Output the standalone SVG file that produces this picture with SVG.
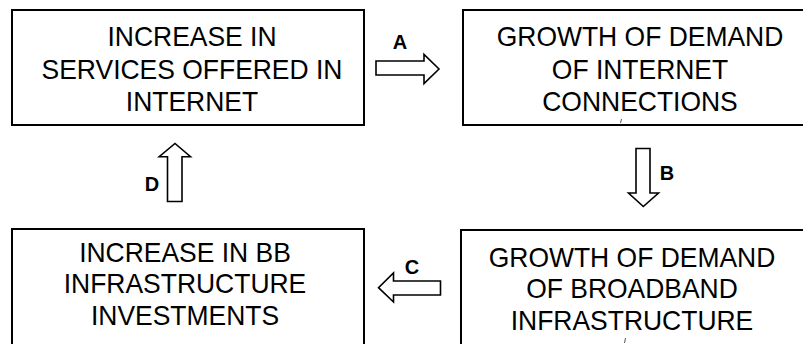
<svg xmlns="http://www.w3.org/2000/svg" width="803" height="344" viewBox="0 0 803 344">
  <style>
    .box { fill: #ffffff; stroke: #000000; stroke-width: 2; }
    .label { font-family: "Liberation Sans", Arial, sans-serif; font-size: 28px; fill: #000000; text-anchor: middle; }
    .tag { font-family: "Liberation Sans", Arial, sans-serif; font-size: 20px; font-weight: bold; fill: #000000; text-anchor: middle; }
    .arrow { fill: #ffffff; stroke: #000000; stroke-width: 1.6; stroke-linejoin: miter; }
    .mark { fill: none; stroke: #555555; stroke-width: 1; }
  </style>
  <rect width="803" height="344" fill="#ffffff"/>

  <!-- top left -->
  <g id="node-services">
    <rect class="box" x="12" y="10" width="352" height="115"/>
    <g transform="translate(192 0) scale(0.945 1)">
      <text class="label" x="0" y="46">INCREASE IN</text>
      <text class="label" x="0" y="79">SERVICES OFFERED IN</text>
      <text class="label" x="0" y="111">INTERNET</text>
    </g>
  </g>

  <!-- top right -->
  <g id="node-connections">
    <rect class="box" x="463" y="10" width="352" height="115"/>
    <g transform="translate(640 0) scale(0.945 1)">
      <text class="label" x="0" y="46">GROWTH OF DEMAND</text>
      <text class="label" x="0" y="79">OF INTERNET</text>
      <text class="label" x="0" y="111">CONNECTIONS</text>
    </g>
    <path class="mark" d="M621.5 119 L620.5 123"/>
  </g>

  <!-- bottom right -->
  <g id="node-broadband">
    <rect class="box" x="461" y="230" width="354" height="130"/>
    <g transform="translate(632 0) scale(0.945 1)">
      <text class="label" x="0" y="267">GROWTH OF DEMAND</text>
      <text class="label" x="0" y="298">OF BROADBAND</text>
      <text class="label" x="0" y="330">INFRASTRUCTURE</text>
    </g>
    <path class="mark" d="M625.5 338 L624.5 343"/>
  </g>

  <!-- bottom left -->
  <g id="node-investments">
    <rect class="box" x="12" y="229" width="352" height="131"/>
    <g transform="translate(185 0) scale(0.945 1)">
      <text class="label" x="0" y="262">INCREASE IN BB</text>
      <text class="label" x="0" y="293">INFRASTRUCTURE</text>
      <text class="label" x="0" y="325">INVESTMENTS</text>
    </g>
  </g>

  <!-- block arrows between the stages -->
  <g id="connectors">
    <g id="arrow-a">
      <path class="arrow" d="M376 61 L424 61 L424 54.5 L439 69 L424 83.5 L424 75 L376 75 Z"/>
      <text class="tag" x="400" y="49">A</text>
    </g>
    <g id="arrow-b">
      <path class="arrow" d="M636 148.5 L650 148.5 L650 193 L658.5 193 L643.3 206.5 L628.5 193 L636 193 Z"/>
      <text class="tag" x="667" y="179.5">B</text>
    </g>
    <g id="arrow-c">
      <path class="arrow" d="M440.5 281 L393.5 281 L393.5 273 L378.5 287.7 L393.5 302 L393.5 295 L440.5 295 Z"/>
      <text class="tag" x="412" y="274">C</text>
    </g>
    <g id="arrow-d">
      <path class="arrow" d="M167.5 201.5 L182 201.5 L182 156.7 L190.5 156.7 L175 143.5 L159.2 156.7 L167.5 156.7 Z"/>
      <text class="tag" x="152" y="191">D</text>
    </g>
  </g>
</svg>
